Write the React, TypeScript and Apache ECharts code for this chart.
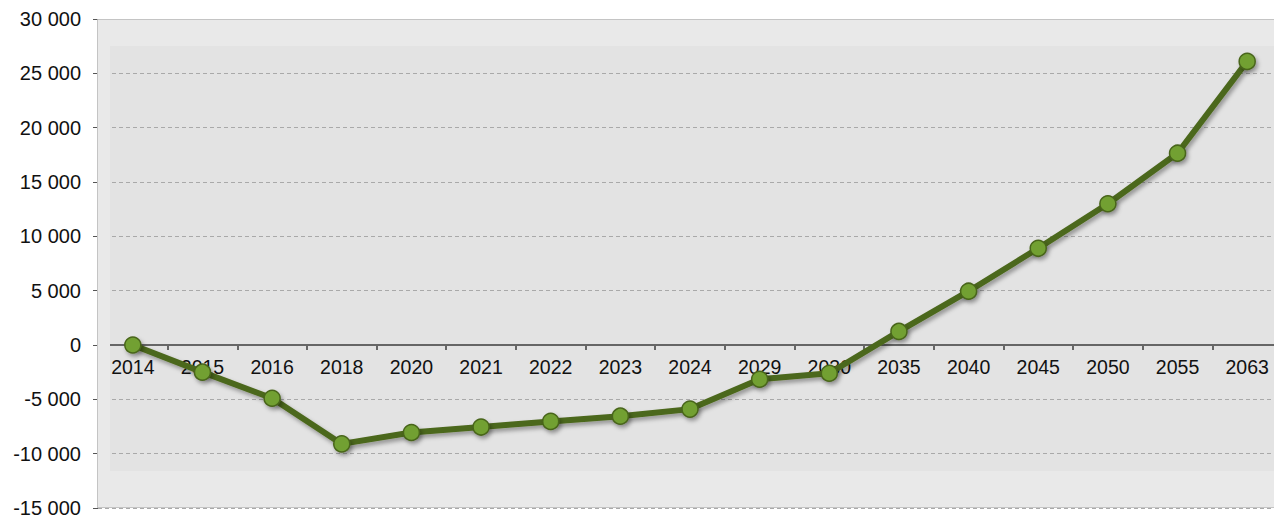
import React, { useEffect, useRef } from "react";
import * as echarts from "echarts";

const years = ["2014", "2015", "2016", "2018", "2020", "2021", "2022", "2023", "2024", "2029", "2030", "2035", "2040", "2045", "2050", "2055", "2063"];
const values = [0, -2500, -4900, -9100, -8050, -7550, -7030, -6550, -5900, -3150, -2600, 1250, 4950, 8900, 13000, 17650, 26100];
const yMin = -15000;
const yMax = 30000;
const yStep = 5000;

const fmt = (v: number) => (v < 0 ? "-" : "") + String(Math.abs(v)).replace(/\B(?=(\d{3})+(?!\d))/g, " ");

export default function App() {
  const ref = useRef<HTMLDivElement>(null);
  useEffect(() => {
    if (!ref.current) return;
    const chart = echarts.init(ref.current, undefined, { renderer: "svg" });
    const bandColor = "#e9e9e9";
    const gridTop = 19;
    const gridHeight = 489;
    const gridBottom = gridTop + gridHeight;
    const zeroOffset = -(gridHeight * (0 - yMin)) / (yMax - yMin);
    chart.setOption({
      animation: false,
      backgroundColor: "#ffffff",
      grid: {
        left: 98, top: gridTop, width: 1184, height: gridHeight,
        outerBoundsMode: "none", containLabel: false,
        show: true, backgroundColor: "#e3e3e3", borderWidth: 0,
      },
      xAxis: {
        type: "category",
        data: years,
        boundaryGap: true,
        position: "bottom",
        offset: zeroOffset,
        axisLine: { show: true, onZero: false, lineStyle: { color: "#666666", width: 2 } },
        axisTick: { show: true, inside: false, length: 5, lineStyle: { color: "#666666", width: 2 } },
        axisLabel: { color: "#111", fontSize: 19.5, fontFamily: "Liberation Sans, Arial, sans-serif", margin: 12 },
        splitLine: { show: false },
      },
      yAxis: {
        type: "value",
        min: yMin,
        max: yMax,
        interval: yStep,
        axisLine: { show: false },
        axisTick: { show: true, length: 5, lineStyle: { color: "#555", width: 1 } },
        axisLabel: { color: "#111", fontSize: 20, fontFamily: "Liberation Sans, Arial, sans-serif", margin: 17, formatter: fmt },
        splitLine: { show: true, lineStyle: { color: "#a9a9a9", type: [4, 3], width: 1 } },
      },
      graphic: [
        { type: "rect", z: 1, silent: true, shape: { x: 98, y: gridTop, width: 1200, height: 27 }, style: { fill: bandColor } },
        { type: "rect", z: 1, silent: true, shape: { x: 98, y: gridTop, width: 12, height: gridHeight }, style: { fill: bandColor } },
        { type: "rect", z: 1, silent: true, shape: { x: 98, y: gridBottom - 37, width: 1200, height: 37 }, style: { fill: bandColor } },
        { type: "line", z: 1, silent: true, shape: { x1: 97.5, y1: gridTop + 0.5, x2: 1280, y2: gridTop + 0.5 }, style: { stroke: "#c4c4c4", lineWidth: 1 } },
        { type: "line", z: 1, silent: true, shape: { x1: 97.5, y1: gridTop + 0.5, x2: 97.5, y2: gridBottom }, style: { stroke: "#c4c4c4", lineWidth: 1 } },
        { type: "line", z: 1, silent: true, shape: { x1: 97.5, y1: gridBottom - 0.5, x2: 1280, y2: gridBottom - 0.5 }, style: { stroke: "#c4c4c4", lineWidth: 1 } },
      ],
      series: [
        {
          type: "line",
          data: values,
          z: 3,
          symbol: "circle",
          symbolSize: 16,
          lineStyle: { color: "#4c671c", width: 6, shadowColor: "rgba(0,0,0,0.35)", shadowBlur: 4, shadowOffsetX: 2, shadowOffsetY: 3 },
          itemStyle: { color: "#72a032", borderColor: "#48651a", borderWidth: 1.5, shadowColor: "rgba(0,0,0,0.35)", shadowBlur: 4, shadowOffsetX: 2, shadowOffsetY: 3 },
        },
      ],
    });
    return () => chart.dispose();
  }, []);
  return <div ref={ref} style={{ position: "absolute", left: 0, top: 0, width: 1274, height: 520 }} />;
}
